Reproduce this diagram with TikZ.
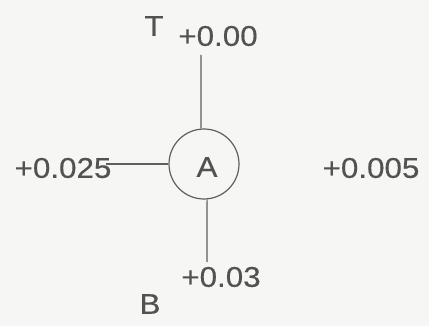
\documentclass[tikz,border=0pt]{standalone}
\usepackage{fontspec}
\setmainfont[FakeStretch=1.1,FakeBold=0.4]{Liberation Sans}
\definecolor{paper}{RGB}{246,246,244}
\definecolor{ink}{RGB}{82,82,80}
\definecolor{wire}{RGB}{95,95,93}
\begin{document}
\begin{tikzpicture}[x=1pt,y=1pt,
  lbl/.style={inner sep=0pt,text=ink,font=\fontsize{28.5}{30}\selectfont},
  wirestyle/.style={draw=wire,line width=1.2pt}]
\fill[paper] (0,0) rectangle (429,-326);
\useasboundingbox (0,0) rectangle (429,-326);
\node[circle,draw=wire,line width=1.2pt,minimum size=70pt,inner sep=0pt] (A) at (204,-164) {};
\node[lbl] (Alab) at (207,-167) {A};
\coordinate (tend) at (201,-55);
\coordinate (bend) at (207,-262);
\coordinate (lend) at (106,-164);
\draw[wirestyle] (tend) -- (A.95);
\draw[wirestyle] (A.275) -- (bend);
\draw[wirestyle] (lend) -- (A.west);
\node[lbl] (T) at (154,-26) {T};
\node[lbl] (top) at (218,-36) {+0.00};
\node[lbl] (left) at (63,-168) {+0.025};
\node[lbl] (right) at (371,-168) {+0.005};
\node[lbl] (bot) at (221,-277) {+0.03};
\node[lbl] (B) at (150,-304) {B};
\end{tikzpicture}
\end{document}
